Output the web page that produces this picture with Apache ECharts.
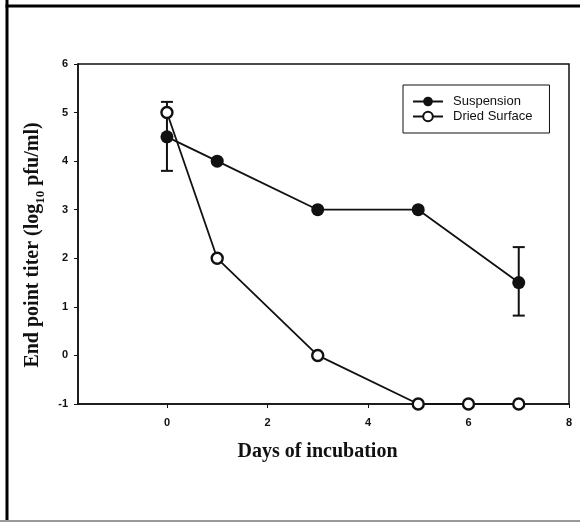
<!DOCTYPE html>
<html>
<head>
<meta charset="utf-8">
<script src="https://cdn.jsdelivr.net/npm/echarts@6/dist/echarts.min.js"></script>
<style>
html,body{margin:0;padding:0;background:#fff;}
#chart{width:580px;height:522px;}
</style>
</head>
<body>
<div id="chart"></div>
<script>
// Data
const suspensionDays = [0, 1, 3, 5, 7];
const suspensionTiter = [4.5, 4.0, 3.0, 3.0, 1.5];
const suspensionErrLow = [3.8, null, null, null, 0.82];
const suspensionErrHigh = [5.22, null, null, null, 2.23];
const driedDays = [0, 1, 3, 5, 6, 7];
const driedTiter = [5.0, 2.0, 0.0, -1.0, -1.0, -1.0];
const xTicks = [0, 2, 4, 6, 8];
const yTicks = [-1, 0, 1, 2, 3, 4, 5, 6];

const suspData = suspensionDays.map((d, i) => [d, suspensionTiter[i]]);
const driedData = driedDays.map((d, i) => [d, driedTiter[i]]);
const errData = [];
suspensionDays.forEach((d, i) => {
  if (suspensionErrLow[i] != null) errData.push([d, suspensionErrLow[i], suspensionErrHigh[i]]);
});

const chart = echarts.init(document.getElementById('chart'), null, {renderer: 'canvas'});
const labelStyle = {fontFamily: 'Liberation Sans', fontSize: 11, color: '#111', fontWeight: 'bold'};

chart.setOption({
  animation: false,
  backgroundColor: '#fff',
  grid: {left: 78, right: 11, top: 64, bottom: 118, show: true, borderColor: '#111', borderWidth: 1.5},
  xAxis: {
    type: 'value', min: -1.77, max: 8,
    axisLine: {show: true, onZero: false, lineStyle: {color: '#111', width: 1.5}},
    axisTick: {show: true, length: 4, customValues: xTicks, lineStyle: {color: '#111'}},
    axisLabel: Object.assign({customValues: xTicks, margin: 13}, labelStyle),
    splitLine: {show: false},
    name: 'Days of incubation', nameLocation: 'middle', nameGap: 38,
    nameTextStyle: {fontFamily: 'Liberation Serif', fontWeight: 'bold', fontSize: 20, color: '#111', padding: [0, 12, 0, 0]}
  },
  yAxis: {
    type: 'value', min: -1, max: 6, interval: 1,
    axisLine: {show: true, onZero: false, lineStyle: {color: '#111', width: 1.5}},
    axisTick: {show: true, length: 4, lineStyle: {color: '#111'}},
    axisLabel: Object.assign({margin: 10}, labelStyle),
    splitLine: {show: false}
  },
  legend: {
    left: 403, top: 85, orient: 'vertical',
    data: ['Suspension', 'Dried Surface'],
    borderColor: '#111', borderWidth: 1, borderRadius: 0,
    padding: [10, 17, 10, 9], itemGap: 2,
    itemWidth: 30, itemHeight: 12,
    textStyle: {fontFamily: 'Liberation Sans', fontSize: 13, color: '#111', padding: [0, 0, 0, 5]}
  },
  graphic: [
    {type: 'line', shape: {x1: 7, y1: 0, x2: 7, y2: 522}, style: {stroke: '#000', lineWidth: 3}},
    {type: 'line', shape: {x1: 5.5, y1: 6, x2: 580, y2: 6}, style: {stroke: '#000', lineWidth: 3}},
    {type: 'line', shape: {x1: 0, y1: 521, x2: 580, y2: 521}, style: {stroke: '#999', lineWidth: 2}},
    {type: 'text', x: 33, y: 245, rotation: Math.PI / 2,
      style: {
        text: '{m|End point titer (log}{sub|10}{m| pfu/ml)}',
        fontFamily: 'Liberation Serif', fontWeight: 'bold', fontSize: 20, fill: '#111',
        align: 'center', verticalAlign: 'middle',
        rich: {
          m: {fontFamily: 'Liberation Serif', fontWeight: 'bold', fontSize: 20, fill: '#111', lineHeight: 28, verticalAlign: 'middle'},
          sub: {fontFamily: 'Liberation Serif', fontWeight: 'bold', fontSize: 13, fill: '#111', lineHeight: 13, verticalAlign: 'bottom'}
        }
      }}
  ],
  series: [
    {
      type: 'custom', name: 'err', data: errData, z: 1,
      renderItem: function (params, api) {
        const x = api.value(0);
        const lo = api.coord([x, api.value(1)]);
        const hi = api.coord([x, api.value(2)]);
        const w = 6;
        const st = {stroke: '#111', lineWidth: 2};
        return {type: 'group', children: [
          {type: 'line', shape: {x1: lo[0], y1: lo[1], x2: hi[0], y2: hi[1]}, style: st},
          {type: 'line', shape: {x1: lo[0] - w, y1: lo[1], x2: lo[0] + w, y2: lo[1]}, style: st},
          {type: 'line', shape: {x1: hi[0] - w, y1: hi[1], x2: hi[0] + w, y2: hi[1]}, style: st}
        ]};
      }
    },
    {
      type: 'line', name: 'Suspension', data: suspData, z: 3,
      symbol: 'circle', symbolSize: 13,
      lineStyle: {color: '#111', width: 1.8},
      itemStyle: {color: '#111', borderColor: '#111', borderWidth: 0}
    },
    {
      type: 'line', name: 'Dried Surface', data: driedData, z: 4,
      symbol: 'circle', symbolSize: 11,
      lineStyle: {color: '#111', width: 1.8},
      itemStyle: {color: '#fff', borderColor: '#111', borderWidth: 2.4}
    }
  ]
});
</script>
</body>
</html>
